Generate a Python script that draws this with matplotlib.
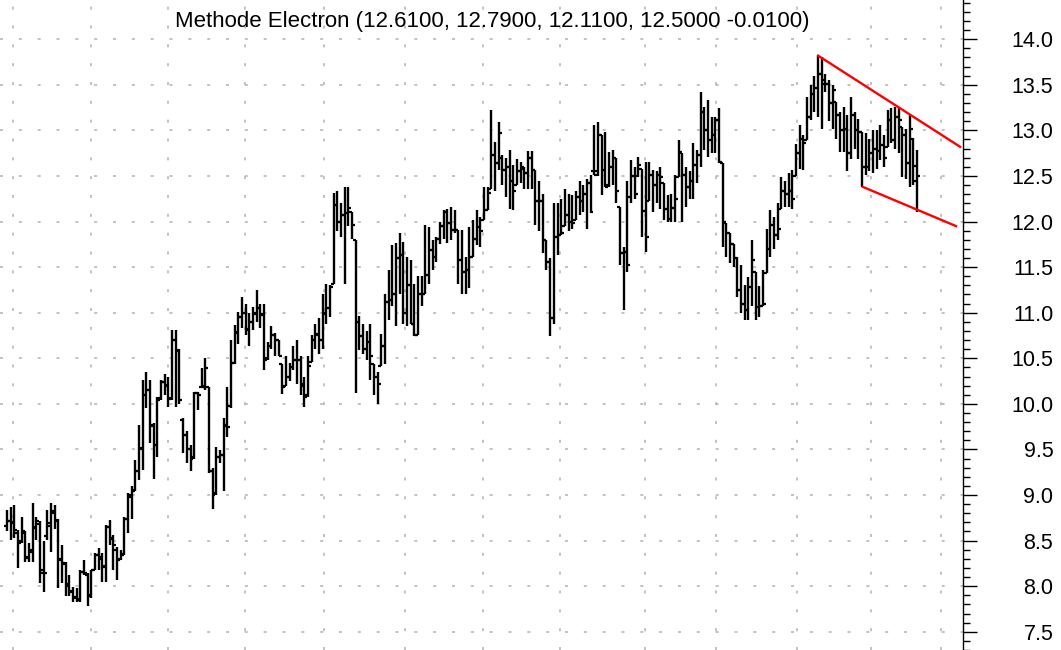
import matplotlib
matplotlib.use("Agg")
import matplotlib.pyplot as plt
from matplotlib.ticker import MultipleLocator, FormatStrFormatter

# daily bars, one year
opens = [8.66, 8.72, 8.70, 8.58, 8.50, 8.58, 8.32, 8.38, 8.64, 8.68,
         8.18, 8.55, 8.66, 8.80, 8.72, 8.30, 8.24, 8.02, 7.95, 7.88,
         7.86, 8.16, 8.12, 7.90, 8.18, 8.34, 8.30, 8.22, 8.65, 8.52,
         8.40, 8.30, 8.35, 8.74, 8.98, 9.05, 9.26, 9.52, 10.10, 10.15,
         9.76, 9.55, 10.06, 10.24, 10.20, 10.06, 10.70, 10.58, 9.82, 9.66,
         9.50, 9.42, 10.12, 10.18, 10.20, 10.19, 9.26, 9.02, 9.42, 9.44,
         9.76, 9.98, 10.45, 10.78, 10.95, 11.00, 10.82, 10.90, 11.00, 11.05,
         10.98, 10.50, 10.63, 10.75, 10.70, 10.44, 10.20, 10.30, 10.40, 10.48,
         10.48, 10.22, 10.10, 10.46, 10.70, 10.76, 10.70, 11.00, 11.05, 11.32,
         12.18, 12.00, 12.07, 12.09, 12.10, 11.80, 10.90, 10.74, 10.60, 10.68,
         10.44, 10.30, 10.41, 10.63, 11.12, 11.14, 11.21, 11.60, 11.63, 11.00,
         11.30, 10.88, 10.76, 11.20, 11.20, 11.41, 11.69, 11.61, 11.81, 11.95,
         12.11, 11.98, 11.91, 11.91, 11.58, 11.45, 11.47, 11.61, 11.81, 11.94,
         12.02, 12.13, 12.36, 12.73, 12.64, 12.70, 12.56, 12.60, 12.45, 12.40,
         12.55, 12.58, 12.53, 12.70, 12.56, 12.22, 12.22, 11.80, 11.56, 10.94,
         11.83, 11.85, 11.95, 12.07, 12.00, 12.02, 12.27, 12.22, 12.30, 12.42,
         12.55, 12.55, 12.95, 12.56, 12.40, 12.60, 12.70, 12.16, 11.65, 11.67,
         12.27, 12.50, 12.50, 12.58, 12.12, 12.23, 12.51, 12.40, 12.51, 12.42,
         12.14, 12.03, 12.15, 12.49, 12.75, 12.51, 12.38, 12.45, 12.62, 12.73,
         13.20, 13.00, 12.89, 12.95, 13.11, 12.64, 11.98, 11.87, 11.75, 11.60,
         11.25, 11.10, 11.03, 11.28, 11.45, 11.06, 11.07, 11.43, 11.70, 11.96,
         11.85, 12.14, 12.34, 12.30, 12.34, 12.50, 12.75, 12.91, 12.89, 13.15,
         13.40, 13.46, 13.62, 13.51, 13.51, 13.30, 13.31, 13.17, 13.00, 13.02,
         12.75, 13.17, 13.00, 12.98, 12.60, 12.60, 12.75, 12.80, 12.77, 12.84,
         12.82, 13.11, 12.89, 13.15, 13.04, 12.95, 12.64, 12.90, 12.61]
highs = [8.84, 8.87, 8.89, 8.62, 8.76, 8.60, 8.47, 8.91, 8.76, 8.71,
         8.50, 8.84, 8.91, 8.89, 8.74, 8.45, 8.27, 8.12, 7.99, 7.98,
         8.18, 8.29, 8.14, 8.18, 8.36, 8.42, 8.36, 8.67, 8.73, 8.56,
         8.43, 8.40, 8.76, 9.02, 9.10, 9.38, 9.77, 10.26, 10.35, 10.26,
         9.79, 10.08, 10.26, 10.33, 10.30, 10.81, 10.81, 10.60, 9.84, 9.70,
         9.55, 10.13, 10.13, 10.39, 10.50, 10.19, 9.30, 9.53, 9.49, 9.84,
         10.19, 10.70, 10.86, 11.01, 11.17, 11.10, 11.00, 11.06, 11.25, 11.10,
         11.10, 10.68, 10.85, 10.78, 10.70, 10.44, 10.53, 10.45, 10.64, 10.70,
         10.52, 10.30, 10.52, 10.75, 10.88, 10.94, 11.21, 11.32, 11.30, 12.31,
         12.33, 12.20, 12.38, 12.38, 12.10, 11.80, 10.96, 10.88, 10.80, 10.88,
         10.44, 10.35, 10.77, 11.20, 11.47, 11.74, 11.76, 11.87, 11.78, 11.61,
         11.58, 11.32, 11.40, 11.40, 11.96, 11.94, 11.80, 11.83, 12.00, 12.13,
         12.14, 12.16, 12.13, 11.91, 11.91, 11.61, 11.94, 12.02, 12.13, 12.05,
         12.38, 12.38, 13.22, 12.87, 13.09, 12.73, 12.70, 12.78, 12.62, 12.69,
         12.65, 12.60, 12.77, 12.77, 12.56, 12.45, 12.30, 11.80, 11.60, 12.20,
         12.20, 12.25, 12.36, 12.30, 12.29, 12.34, 12.45, 12.40, 12.47, 12.51,
         13.06, 13.09, 12.95, 12.98, 12.76, 12.78, 12.70, 12.16, 11.72, 12.45,
         12.67, 12.60, 12.71, 12.58, 12.65, 12.65, 12.56, 12.55, 12.60, 12.42,
         12.29, 12.30, 12.51, 12.89, 12.75, 12.60, 12.55, 12.86, 12.78, 13.42,
         13.26, 13.33, 13.15, 13.15, 13.24, 12.64, 11.98, 11.87, 11.75, 11.61,
         11.52, 11.30, 11.39, 11.80, 11.45, 11.29, 11.47, 11.92, 12.13, 12.05,
         12.20, 12.49, 12.45, 12.53, 12.56, 12.85, 13.06, 12.95, 13.37, 13.50,
         13.60, 13.82, 13.81, 13.62, 13.55, 13.50, 13.31, 13.20, 13.26, 13.17,
         13.37, 13.20, 13.13, 12.98, 12.97, 12.90, 13.00, 13.00, 13.06, 12.95,
         13.22, 13.24, 13.26, 13.26, 13.04, 13.02, 13.17, 12.92, 12.79]
lows = [8.60, 8.51, 8.53, 8.20, 8.47, 8.27, 8.27, 8.27, 8.51, 8.03,
        7.94, 8.51, 8.38, 8.63, 7.98, 8.03, 7.89, 7.89, 7.83, 7.83,
        7.83, 8.12, 7.78, 7.87, 8.18, 8.18, 8.05, 8.05, 8.45, 8.18,
        8.07, 8.29, 8.34, 8.58, 8.74, 9.04, 9.16, 9.27, 9.95, 9.57,
        9.18, 9.42, 10.04, 10.10, 9.97, 10.04, 9.97, 10.00, 9.46, 9.35,
        9.26, 9.40, 9.93, 10.17, 10.15, 9.24, 8.85, 9.00, 9.35, 9.04,
        9.64, 9.95, 10.44, 10.66, 10.83, 10.75, 10.64, 10.81, 10.90, 10.83,
        10.37, 10.48, 10.60, 10.52, 10.52, 10.11, 10.20, 10.25, 10.37, 10.22,
        10.10, 9.97, 10.08, 10.46, 10.60, 10.55, 10.60, 10.88, 10.95, 11.32,
        11.90, 11.83, 11.32, 11.95, 11.81, 10.12, 10.59, 10.55, 10.48, 10.26,
        10.10, 10.00, 10.41, 10.44, 10.92, 11.07, 10.85, 11.20, 10.88, 10.85,
        10.88, 10.74, 10.76, 11.07, 11.20, 11.32, 11.47, 11.56, 11.75, 11.81,
        11.76, 11.80, 11.87, 11.32, 11.21, 11.21, 11.27, 11.61, 11.74, 11.72,
        12.02, 12.13, 12.36, 12.34, 12.56, 12.40, 12.27, 12.14, 12.13, 12.40,
        12.42, 12.36, 12.36, 12.36, 11.96, 11.90, 11.65, 11.47, 10.74, 10.88,
        11.63, 11.85, 11.95, 11.90, 11.92, 12.02, 12.07, 12.10, 11.92, 12.09,
        12.51, 12.50, 12.29, 12.38, 12.38, 12.40, 12.20, 11.52, 11.03, 11.45,
        12.20, 12.25, 12.49, 11.83, 11.67, 12.23, 12.11, 12.20, 12.14, 12.02,
        12.00, 12.00, 12.00, 12.49, 12.00, 12.16, 12.25, 12.25, 12.42, 12.60,
        12.78, 12.71, 12.75, 12.75, 12.64, 11.72, 11.61, 11.55, 11.50, 11.17,
        11.00, 10.92, 10.92, 11.07, 10.92, 10.95, 11.07, 11.43, 11.61, 11.70,
        11.80, 12.14, 12.16, 12.16, 12.14, 12.50, 12.58, 12.56, 12.89, 13.11,
        13.20, 13.15, 13.02, 13.42, 13.10, 13.02, 12.90, 12.76, 12.76, 12.55,
        12.69, 12.80, 12.69, 12.38, 12.51, 12.55, 12.53, 12.58, 12.67, 12.60,
        12.82, 12.86, 12.80, 12.75, 12.49, 12.47, 12.38, 12.40, 12.11]
closes = [8.71, 8.69, 8.62, 8.47, 8.60, 8.31, 8.40, 8.65, 8.71, 8.14,
          8.14, 8.69, 8.82, 8.73, 8.29, 8.25, 8.00, 7.94, 7.87, 7.85,
          8.16, 8.14, 7.89, 8.18, 8.34, 8.32, 8.21, 8.65, 8.53, 8.45,
          8.29, 8.34, 8.74, 9.00, 9.04, 9.26, 9.51, 10.10, 10.15, 9.77,
          9.55, 10.04, 10.24, 10.21, 10.05, 10.70, 10.59, 10.04, 9.66, 9.50,
          9.40, 10.12, 10.10, 10.19, 10.39, 9.26, 9.00, 9.42, 9.44, 9.77,
          9.75, 10.45, 10.79, 10.95, 11.00, 10.81, 10.90, 10.99, 11.05, 10.99,
          10.48, 10.63, 10.75, 10.70, 10.52, 10.19, 10.30, 10.40, 10.48, 10.48,
          10.20, 10.08, 10.41, 10.70, 10.77, 10.70, 10.99, 11.05, 11.28, 12.18,
          12.00, 12.07, 12.09, 12.15, 11.96, 10.90, 10.74, 10.60, 10.68, 10.52,
          10.30, 10.22, 10.63, 11.12, 11.14, 11.21, 11.60, 11.63, 11.00, 11.30,
          10.88, 10.76, 11.21, 11.20, 11.41, 11.69, 11.61, 11.81, 11.95, 12.11,
          11.98, 11.91, 11.91, 11.58, 11.45, 11.47, 11.61, 11.81, 11.94, 11.90,
          12.13, 12.31, 12.73, 12.64, 12.97, 12.56, 12.60, 12.45, 12.34, 12.55,
          12.60, 12.53, 12.70, 12.56, 12.22, 12.22, 11.80, 11.56, 10.94, 11.83,
          11.85, 11.87, 12.07, 12.00, 11.98, 12.27, 12.22, 12.30, 12.42, 12.11,
          12.51, 12.95, 12.56, 12.38, 12.60, 12.70, 12.34, 11.65, 11.67, 11.52,
          12.50, 12.30, 12.62, 12.12, 11.83, 12.51, 12.40, 12.51, 12.49, 12.14,
          12.03, 12.15, 12.25, 12.76, 12.51, 12.38, 12.45, 12.62, 12.73, 13.20,
          13.00, 12.89, 12.95, 13.11, 12.65, 12.00, 11.87, 11.75, 11.60, 11.25,
          11.10, 11.03, 11.28, 11.58, 11.06, 11.07, 11.10, 11.70, 11.96, 11.85,
          11.92, 12.34, 12.30, 12.34, 12.25, 12.75, 12.91, 12.86, 13.15, 13.40,
          13.46, 13.62, 13.55, 13.51, 13.30, 13.44, 13.17, 13.00, 13.02, 12.75,
          13.17, 13.00, 12.98, 12.60, 12.60, 12.75, 12.80, 12.77, 12.84, 12.70,
          13.11, 12.89, 13.15, 13.11, 12.95, 12.64, 13.02, 12.45, 12.50]

title = "Methode Electron (12.6100, 12.7900, 12.1100, 12.5000 -0.0100)"

# bar index where each month starts (vertical grid)
month_starts = [1.6, 22.9, 43.9, 64.9, 86.4, 108.4, 129.7, 150.7,
                173.8, 193.2, 215.3, 235.4, 254.5]

# wedge lines: (bar index, price)
upper_x = [221, 259.7]
upper_y = [13.82, 12.82]
lower_x = [233.2, 258.6]
lower_y = [12.38, 11.95]

W, H = 1061, 650
fig = plt.figure(figsize=(W / 100, H / 100), dpi=100)
ax = fig.add_axes([0, 0, 963 / W, 1])

x = list(range(len(closes)))
tick = 0.8
grid_col = "#b8b8b8"

for m in month_starts:
    ax.axvline(m, color=grid_col, lw=1.2, dashes=(1.8, 9.5), zorder=0)
for lvl in [7.5 + 0.5 * k for k in range(14)]:
    ax.axhline(lvl, color=grid_col, lw=1.2, dashes=(1.8, 9.5), zorder=0)

ax.vlines(x, lows, highs, color="black", lw=1.7, zorder=2)
ax.hlines(opens, [i - tick for i in x], x, color="black", lw=1.6, zorder=2)
ax.hlines(closes, x, [i + tick for i in x], color="black", lw=1.6, zorder=2)

ax.plot(upper_x, upper_y, color="#ff0000", lw=1.7, zorder=3)
ax.plot(lower_x, lower_y, color="#ff0000", lw=1.7, zorder=3)

ax.set_xlim(-7 / 3.67, 956 / 3.67)
ax.set_ylim(7.30, 14.43)

for s in ["top", "left", "bottom"]:
    ax.spines[s].set_visible(False)
ax.spines["right"].set_linewidth(1.0)
ax.set_xticks([])
ax.yaxis.tick_right()
ax.yaxis.set_major_locator(MultipleLocator(0.5))
ax.yaxis.set_minor_locator(MultipleLocator(0.1))
ax.yaxis.set_major_formatter(FormatStrFormatter("%.1f"))
ax.tick_params(axis="y", which="major", direction="out", length=10, width=1.0,
               pad=55, labelsize=15.5)
ax.tick_params(axis="y", which="minor", direction="out", length=5, width=1.0)
for lbl in ax.get_yticklabels():
    lbl.set_horizontalalignment("right")
    lbl.set_family("Liberation Sans")

fig.text(492 / W, 1 - 22 / H, title, ha="center", va="center",
         fontsize=16, family="Liberation Sans")

fig.savefig("out.png", dpi=100)
